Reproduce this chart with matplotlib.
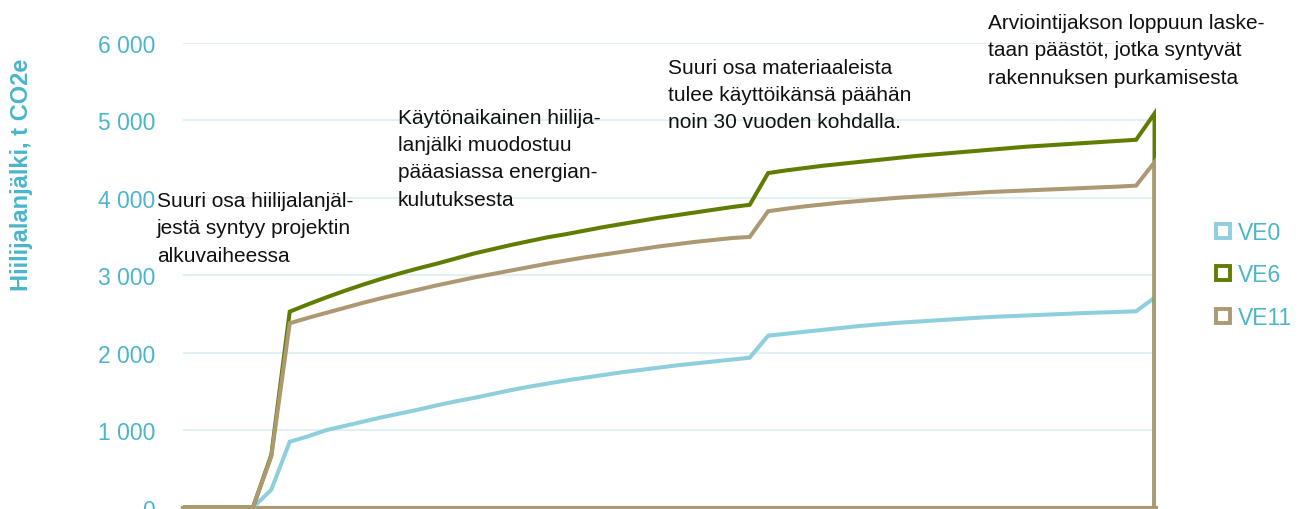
import numpy as np
import matplotlib
matplotlib.use('Agg')
import matplotlib.pyplot as plt
from matplotlib.lines import Line2D

plt.rcParams['font.family'] = ['Liberation Sans', 'DejaVu Sans']

# vuodet (indeksi) ja hiilijalanjälki t CO2e
years = list(range(0, 54))

ve0 = [0, 0, 0, 0, 0, 230, 850, 920, 1000, 1055, 1110, 1165, 1215, 1265, 1320, 1370,
       1415, 1465, 1515, 1560, 1600, 1640, 1675, 1710, 1745, 1775, 1805, 1835, 1860,
       1885, 1910, 1935, 2220, 2245, 2270, 2295, 2320, 2345, 2365, 2385, 2400, 2415,
       2430, 2445, 2460, 2470, 2480, 2490, 2500, 2510, 2518, 2526, 2535, 2710]
ve6 = [0, 0, 0, 0, 0, 680, 2530, 2625, 2715, 2800, 2880, 2955, 3025, 3090, 3150, 3215,
       3280, 3335, 3390, 3440, 3490, 3530, 3575, 3620, 3660, 3700, 3740, 3775, 3810,
       3845, 3880, 3910, 4320, 4355, 4385, 4415, 4440, 4465, 4490, 4515, 4540, 4560,
       4580, 4600, 4620, 4640, 4660, 4675, 4690, 4705, 4720, 4735, 4750, 5090]
ve11 = [0, 0, 0, 0, 0, 660, 2380, 2450, 2515, 2580, 2645, 2705, 2760, 2815, 2870, 2920,
        2970, 3015, 3060, 3105, 3150, 3190, 3230, 3265, 3300, 3335, 3370, 3400, 3430,
        3455, 3480, 3495, 3827, 3860, 3890, 3915, 3940, 3960, 3980, 4000, 4015, 4030,
        4045, 4060, 4075, 4085, 4095, 4105, 4115, 4125, 4135, 4145, 4158, 4460]

series = {'VE0': ve0, 'VE6': ve6, 'VE11': ve11}
colors = {'VE0': '#8DCFDD', 'VE6': '#5F7D00', 'VE11': '#AC9873'}
teal = '#4BB5CB'

yticks = [0, 1000, 2000, 3000, 4000, 5000, 6000]

notes = [
    ("Suuri osa hiilijalanjäl-\njestä syntyy projektin\nalkuvaiheessa", 157, 192),
    ("Käytönaikainen hiilija-\nlanjälki muodostuu\npääasiassa energian-\nkulutuksesta", 398, 109),
    ("Suuri osa materiaaleista\ntulee käyttöikänsä päähän\nnoin 30 vuoden kohdalla.", 668, 59),
    ("Arviointijakson loppuun laske-\ntaan päästöt, jotka syntyvät\nrakennuksen purkamisesta", 988, 14),
]

W, H = 1314, 510
fig = plt.figure(figsize=(W / 100, H / 100), dpi=100)
ax = fig.add_axes([183 / W, 1.5 / H, 973 / W, 464.5 / H])

# viivat putoavat lopussa nollaan (purku lasketaan viimeisenä vuonna)
for name, vals in series.items():
    x = np.append(years, years[-1])
    y = np.append(vals, 0)
    ax.plot(x, y, color=colors[name], lw=2.9, solid_joinstyle='miter', zorder=3)

ax.set_xlim(0.2, 53.08)
ax.set_ylim(0, 6000)
ax.set_yticks(yticks)
ax.set_yticklabels(['{:,}'.format(v).replace(',', ' ') for v in yticks])
ax.set_xticks([])
ax.tick_params(axis='y', length=0, pad=20, labelsize=16.5, labelcolor=teal)
ax.grid(axis='y', color='#E0F0F3', lw=1.5, zorder=0)
for s in ['top', 'left', 'right']:
    ax.spines[s].set_visible(False)
ax.spines['bottom'].set_color(colors['VE11'])
ax.spines['bottom'].set_linewidth(3)

fig.text(22 / W, 1 - 175 / H, 'Hiilijalanjälki, t CO2e', rotation=90, color=teal,
         fontsize=17, fontweight='bold', ha='center', va='center')

for txt, px, py in notes:
    fig.text(px / W, 1 - py / H, txt, fontsize=15, color='#111111', ha='left', va='top',
             linespacing=1.55)

handles = [Line2D([], [], ls='none', marker='s', markersize=10, markerfacecolor='white',
                  markeredgecolor=colors[n], markeredgewidth=2.8) for n in series]
fig.legend(handles, list(series.keys()), loc='upper left', bbox_to_anchor=(1215 / W, 1 - 222 / H),
           frameon=False, fontsize=16.5, labelcolor=teal, handlelength=0.7, handletextpad=0.3,
           labelspacing=0.85, borderaxespad=0, borderpad=0)

plt.savefig('out.png', dpi=100)
